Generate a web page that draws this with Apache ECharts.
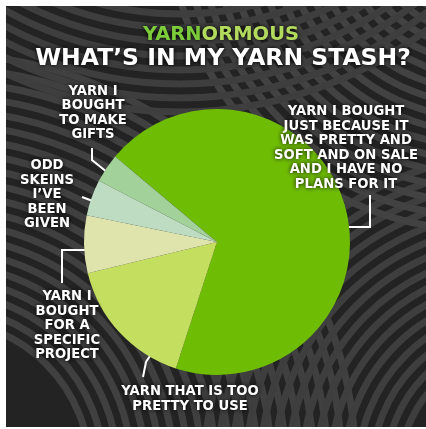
<!DOCTYPE html>
<html>
<head>
<meta charset="utf-8">
<script src="https://cdn.jsdelivr.net/npm/echarts@6/dist/echarts.min.js"></script>
<style>
html,body{margin:0;padding:0;background:#fff;}
#chart{width:426px;height:429px;}
</style>
</head>
<body>
<div id="chart"></div>
<script>
// ---- data ----
var categories = [
  'YARN I BOUGHT\nJUST BECAUSE IT\nWAS PRETTY AND\nSOFT AND ON SALE\nAND I HAVE NO\nPLANS FOR IT',
  'YARN THAT IS TOO\nPRETTY TO USE',
  'YARN I\nBOUGHT\nFOR A\nSPECIFIC\nPROJECT',
  'ODD\nSKEINS\nI\u2019VE\nBEEN\nGIVEN',
  'YARN I\nBOUGHT\nTO MAKE\nGIFTS'
];
var values = [68.9, 16.2, 7.0, 4.4, 3.5];
var brandParts = ['YARN', 'ORMOUS'];
var headline = 'WHAT\u2019S IN MY YARN STASH?';

// ---- styling / layout (not data) ----
var colors = ['#6fbc05', '#c4de5f', '#dfe4ad', '#bedcc2', '#a2d199'];
var labelPos = [[346, 148], [190, 399], [67, 326], [47, 195], [93, 113]];
var linePts = [
  [[370, 195], [370, 227], [340, 227]],
  [[143, 377], [146, 362], [154, 350]],
  [[93, 250], [62, 250], [62, 283]],
  [[82, 197], [90, 200], [98, 203]],
  [[92, 148], [92, 160], [113, 177]]
];

var W = 426, H = 429;
var graphics = [];
graphics.push({type:'rect', shape:{x:0,y:0,width:W,height:H}, style:{fill:'#232323'}, z:-10});
// decorative background stripes
function rings(cx, cy, r0, r1, step, col) {
  for (var r = r0; r <= r1; r += step) {
    graphics.push({type:'circle', shape:{cx:cx, cy:cy, r:r}, style:{fill:null, stroke:col, lineWidth:step/2}, z:-9});
  }
}
rings(-60, 470, 150, 420, 14, '#404040');
rings(520, 470, 120, 320, 14, '#3e3e3e');
rings(480, -80, 100, 320, 14, '#424242');
rings(180, -300, 300, 420, 14, '#3e3e3e');
// white frame
graphics.push({type:'rect', shape:{x:0,y:0,width:W,height:6}, style:{fill:'#fff'}, z:100});
graphics.push({type:'rect', shape:{x:0,y:0,width:6,height:H}, style:{fill:'#fff'}, z:100});
graphics.push({type:'rect', shape:{x:0,y:H-2,width:W,height:2}, style:{fill:'#fff'}, z:100});

var chart = echarts.init(document.getElementById('chart'));
var font = '"DejaVu Sans", sans-serif';
var shadow = {textShadowColor:'rgba(0,0,0,0.95)', textShadowBlur:4};
chart.setOption({
  backgroundColor: '#232323',
  animation: false,
  graphic: graphics,
  title: [
    {
      text: '{a|' + brandParts[0] + '}{b|' + brandParts[1] + '}',
      left: 216, top: 20, textAlign: 'center',
      textStyle: {
        rich: {
          a: Object.assign({fontFamily: font, fontWeight: 'bold', fontSize: 19.5, color: '#7ccb3b'}, shadow),
          b: Object.assign({fontFamily: font, fontWeight: 'bold', fontSize: 19.5, color: '#b2da5c'}, shadow)
        }
      }
    },
    {
      text: headline,
      left: 218, top: 42, textAlign: 'center',
      textStyle: Object.assign({fontFamily: font, fontWeight: 'bold', fontSize: 23.5, color: '#ffffff'}, shadow)
    }
  ],
  series: [{
    type: 'pie',
    center: [217, 242],
    radius: 133,
    startAngle: 140,
    clockwise: true,
    silent: true,
    data: categories.map(function (c, i) {
      return {name: c, value: values[i], itemStyle: {color: colors[i]}};
    }),
    label: Object.assign({
      show: true,
      position: 'outside',
      alignTo: 'none',
      overflow: 'none',
      formatter: '{b}',
      color: '#ffffff',
      fontFamily: font,
      fontWeight: 'bold',
      fontSize: 13.2,
      lineHeight: 14.5,
      align: 'center'
    }, shadow),
    labelLine: {show: true, lineStyle: {color: '#ffffff', width: 2}},
    labelLayout: function (p) {
      var i = p.dataIndex;
      return {
        x: labelPos[i][0], y: labelPos[i][1],
        align: 'center', verticalAlign: 'middle',
        labelLinePoints: linePts[i]
      };
    }
  }]
});
</script>
</body>
</html>
